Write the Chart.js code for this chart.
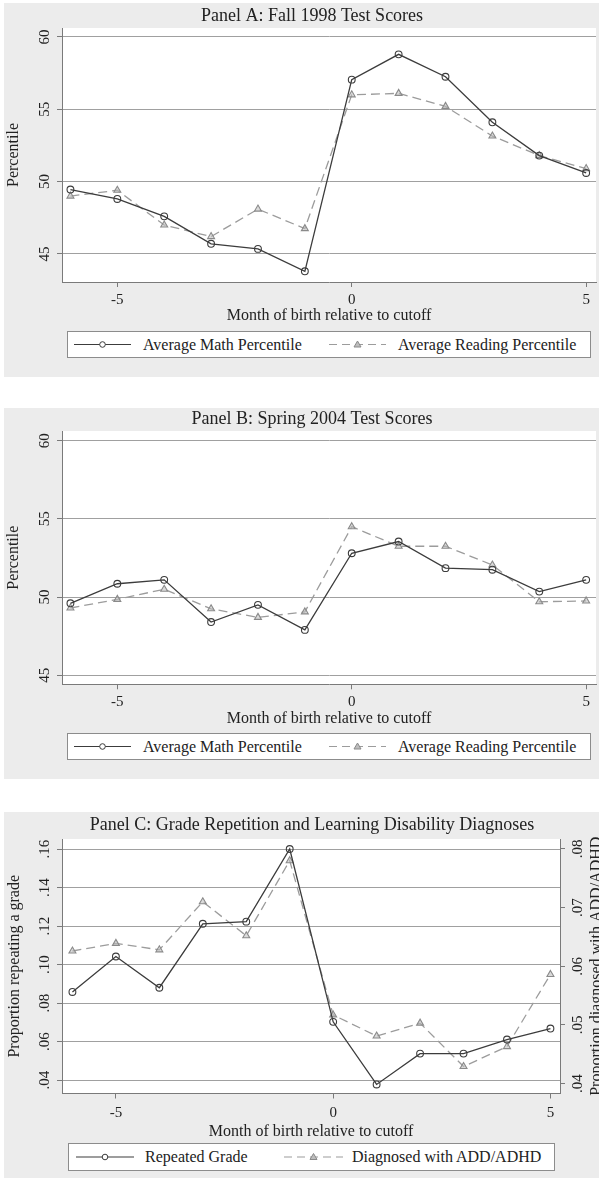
<!DOCTYPE html>
<html>
<head>
<meta charset="utf-8">
<script src="https://cdn.jsdelivr.net/npm/chart.js@4.4.1/dist/chart.umd.min.js"></script>
<style>
  html, body { margin: 0; padding: 0; background: #fff; }
  body { position: relative; width: 599px; height: 1178px; overflow: hidden;
         font-family: "Liberation Serif", "Times New Roman", serif; color: #222; }
  .panel { position: absolute; left: 4px; width: 595px; background: #ececec; }
  canvas { position: absolute; left: 0; }
  .legend { position: absolute; box-sizing: border-box; border: 1px solid #8c8c8c; background: #fff; }
  .legend svg { position: absolute; top: 0; }
  .legend span { position: absolute; top: 0; height: 100%; display: flex; align-items: center;
                 font-size: 16px; white-space: nowrap; color: #222; }
</style>
</head>
<body>
<div class="panel" style="top:3px;height:374px"></div>
<div class="panel" style="top:408px;height:371px"></div>
<div class="panel" style="top:812px;height:366px"></div>

<canvas id="panelA" width="599" height="330" style="top:0px"></canvas>
<canvas id="panelB" width="599" height="330" style="top:400px"></canvas>
<canvas id="panelC" width="599" height="345" style="top:800px"></canvas>

<div id="legendA" class="legend" style="left:67px;top:331px;width:524px;height:27px"></div>
<div id="legendB" class="legend" style="left:67px;top:733px;width:524px;height:27px"></div>
<div id="legendC" class="legend" style="left:68px;top:1143px;width:487px;height:28px"></div>

<script>
// Month of birth relative to the school-entry cutoff
const months = [-6, -5, -4, -3, -2, -1, 0, 1, 2, 3, 4, 5];
const monthTicks = [-5, 0, 5];

// Panel A: Fall 1998 test scores (percentiles)
const mathFall1998    = [49.45, 48.8, 47.6, 45.7, 45.35, 43.8, 57.05, 58.8, 57.25, 54.1, 51.8, 50.6];
const readingFall1998 = [49.0, 49.4, 47.0, 46.2, 48.1, 46.75, 56.0, 56.1, 55.2, 53.15, 51.8, 50.9];
const percentileTicks = [45, 50, 55, 60];
const percentileTickLabels = ['45', '50', '55', '60'];

// Panel B: Spring 2004 test scores (percentiles)
const mathSpring2004    = [49.6, 50.85, 51.1, 48.4, 49.5, 47.9, 52.8, 53.55, 51.85, 51.75, 50.35, 51.1];
const readingSpring2004 = [49.3, 49.85, 50.5, 49.25, 48.7, 49.05, 54.5, 53.25, 53.25, 52.05, 49.7, 49.75];

// Panel C: grade repetition (left axis) and ADD/ADHD diagnoses (right axis)
const repeatedGrade = [0.0858, 0.1042, 0.088, 0.1212, 0.1223, 0.160, 0.0703, 0.0378, 0.0538, 0.0538, 0.0611, 0.0668];
const adhdDiagnosed = [0.0626, 0.0639, 0.0628, 0.0710, 0.0652, 0.0780, 0.0517, 0.0481, 0.0503, 0.0429, 0.0463, 0.0586];
const repeatTicks = [0.04, 0.06, 0.08, 0.10, 0.12, 0.14, 0.16];
const repeatTickLabels = ['.04', '.06', '.08', '.10', '.12', '.14', '.16'];
const adhdTicks = [0.04, 0.05, 0.06, 0.07, 0.08];
const adhdTickLabels = ['.04', '.05', '.06', '.07', '.08'];

const SERIF = '"Liberation Serif", "Times New Roman", serif';
const TEXT = '#222';
const AXIS = '#7a7a7a';
const GRID = '#a0a0a0';
const DARK = '#3c3c3c';
const LIGHT = '#9c9c9c';

function points(series) {
  return months.map((m, i) => ({ x: m, y: series[i] }));
}

function solidSeries(label, series, axis) {
  return {
    label, data: points(series), yAxisID: axis || 'y',
    borderColor: DARK, borderWidth: 1.3, tension: 0,
    pointStyle: 'circle', pointRadius: 3.4, pointBorderWidth: 1.1,
    pointBorderColor: DARK, pointBackgroundColor: 'rgba(255,255,255,0)'
  };
}

function dashedSeries(label, series, axis) {
  return {
    label, data: points(series), yAxisID: axis || 'y',
    borderColor: LIGHT, borderWidth: 1.3, borderDash: [9, 5], tension: 0,
    pointStyle: 'triangle', pointRadius: 4, pointBorderWidth: 1.1,
    pointBorderColor: '#8a8a8a', pointBackgroundColor: 'rgba(190,190,190,0.55)'
  };
}

function xScale(min, max, height, pad) {
  return {
    type: 'linear', position: 'bottom', min, max,
    afterBuildTicks: s => { s.ticks = monthTicks.map(v => ({ value: v })); },
    afterFit: s => { s.height = height; },
    grid: { drawOnChartArea: false, drawTicks: true, tickLength: 5, color: AXIS, tickColor: AXIS, lineWidth: 1 },
    border: { display: true, color: AXIS, width: 1 },
    ticks: { color: TEXT, font: { family: SERIF, size: 15, lineHeight: 1.2 }, padding: pad,
             maxRotation: 0, minRotation: 0, autoSkip: false }
  };
}

function yScale(min, max, ticks, width, position, gridOn) {
  return {
    type: 'linear', position, min, max,
    afterBuildTicks: s => { s.ticks = ticks.map(v => ({ value: v })); },
    afterFit: s => { s.width = width; },
    grid: { drawOnChartArea: gridOn, drawTicks: true, tickLength: 5, color: GRID, tickColor: AXIS, lineWidth: 1 },
    border: { display: true, color: AXIS, width: 1 },
    ticks: { display: false }
  };
}

function rotatedText(ctx, text, x, y) {
  ctx.save();
  ctx.translate(x, y);
  ctx.rotate(-Math.PI / 2);
  ctx.fillText(text, 0, 0);
  ctx.restore();
}

// White plot region, titles, axis titles and vertical tick labels
const panelText = {
  id: 'panelText',
  beforeDraw(chart) {
    const { ctx, chartArea: a } = chart;
    ctx.save();
    ctx.fillStyle = '#fff';
    ctx.fillRect(a.left, a.top, a.right - a.left, a.bottom - a.top);
    ctx.restore();
  },
  afterDraw(chart, args, o) {
    const { ctx, chartArea: a } = chart;
    ctx.save();
    ctx.fillStyle = TEXT;
    ctx.textAlign = 'center';
    ctx.textBaseline = 'middle';
    ctx.font = '18px ' + SERIF;
    ctx.fillText(o.title, o.titleX, o.titleY);
    ctx.font = '16px ' + SERIF;
    ctx.fillText(o.xTitle, (a.left + a.right) / 2, a.bottom + o.xTitleGap);
    rotatedText(ctx, o.yTitle, o.yTitleX, (a.top + a.bottom) / 2);
    if (o.y2Title) rotatedText(ctx, o.y2Title, o.y2TitleX, (a.top + a.bottom) / 2);
    ctx.font = '15px ' + SERIF;
    const ys = chart.scales.y;
    o.yTicks.forEach((v, i) => rotatedText(ctx, o.yTickLabels[i], o.yTickX, ys.getPixelForValue(v)));
    if (o.y2Ticks) {
      const y2 = chart.scales.y2;
      o.y2Ticks.forEach((v, i) => rotatedText(ctx, o.y2TickLabels[i], o.y2TickX, y2.getPixelForValue(v)));
    }
    ctx.restore();
  }
};

function baseOptions(padTop, padRight, scales, text) {
  return {
    responsive: false, animation: false, devicePixelRatio: 1,
    layout: { padding: { top: padTop, right: padRight, left: 0, bottom: 0 }, autoPadding: false },
    scales,
    plugins: { legend: { display: false }, tooltip: { enabled: false }, panelText: text }
  };
}

new Chart(document.getElementById('panelA'), {
  type: 'line',
  data: { datasets: [
    solidSeries('Average Math Percentile', mathFall1998),
    dashedSeries('Average Reading Percentile', readingFall1998)
  ] },
  options: baseOptions(28, 3, {
    x: xScale(-6.18, 5.21, 48, 4),
    y: yScale(43.06, 60.62, percentileTicks, 62, 'left', true)
  }, {
    title: 'Panel A: Fall 1998 Test Scores', titleX: 312, titleY: 16,
    xTitle: 'Month of birth relative to cutoff', xTitleGap: 34,
    yTitle: 'Percentile', yTitleX: 14,
    yTicks: percentileTicks, yTickLabels: percentileTickLabels, yTickX: 45
  }),
  plugins: [panelText]
});

new Chart(document.getElementById('panelB'), {
  type: 'line',
  data: { datasets: [
    solidSeries('Average Math Percentile', mathSpring2004),
    dashedSeries('Average Reading Percentile', readingSpring2004)
  ] },
  options: baseOptions(31, 3, {
    x: xScale(-6.18, 5.21, 45.7, 4),
    y: yScale(44.42, 60.62, percentileTicks, 62, 'left', true)
  }, {
    title: 'Panel B: Spring 2004 Test Scores', titleX: 312, titleY: 19.5,
    xTitle: 'Month of birth relative to cutoff', xTitleGap: 34,
    yTitle: 'Percentile', yTitleX: 14,
    yTicks: percentileTicks, yTickLabels: percentileTickLabels, yTickX: 45
  }),
  plugins: [panelText]
});

new Chart(document.getElementById('panelC'), {
  type: 'line',
  data: { datasets: [
    solidSeries('Repeated Grade', repeatedGrade, 'y'),
    dashedSeries('Diagnosed with ADD/ADHD', adhdDiagnosed, 'y2')
  ] },
  options: baseOptions(39, 0, {
    x: xScale(-6.24, 5.22, 51.5, 5.5),
    y: yScale(0.0331, 0.1652, repeatTicks, 62, 'left', true),
    y2: yScale(0.0383, 0.0817, adhdTicks, 39, 'right', false)
  }, {
    title: 'Panel C: Grade Repetition and Learning Disability Diagnoses', titleX: 312, titleY: 25,
    xTitle: 'Month of birth relative to cutoff', xTitleGap: 38,
    yTitle: 'Proportion repeating a grade', yTitleX: 15,
    yTicks: repeatTicks, yTickLabels: repeatTickLabels, yTickX: 45,
    y2Title: 'Proportion diagnosed with ADD/ADHD', y2TitleX: 597,
    y2Ticks: adhdTicks, y2TickLabels: adhdTickLabels, y2TickX: 578
  }),
  plugins: [panelText]
});

// Legend rows: a line sample with its marker, then the series name
function addLegend(id, h, items) {
  const box = document.getElementById(id);
  const ns = 'http://www.w3.org/2000/svg';
  items.forEach(it => {
    const svg = document.createElementNS(ns, 'svg');
    svg.setAttribute('width', it.w);
    svg.setAttribute('height', h);
    svg.style.left = it.x + 'px';
    const cy = (h - 2) / 2;
    const line = document.createElementNS(ns, 'line');
    line.setAttribute('x1', 0); line.setAttribute('x2', it.w);
    line.setAttribute('y1', cy); line.setAttribute('y2', cy);
    line.setAttribute('stroke', it.dashed ? LIGHT : DARK);
    line.setAttribute('stroke-width', 1.2);
    if (it.dashed) line.setAttribute('stroke-dasharray', '8 5');
    svg.appendChild(line);
    const mx = it.w / 2;
    let mark;
    if (it.dashed) {
      mark = document.createElementNS(ns, 'polygon');
      mark.setAttribute('points', `${mx},${cy - 3.5} ${mx - 3.5},${cy + 2.5} ${mx + 3.5},${cy + 2.5}`);
      mark.setAttribute('fill', '#bdbdbd');
      mark.setAttribute('stroke', '#8a8a8a');
    } else {
      mark = document.createElementNS(ns, 'circle');
      mark.setAttribute('cx', mx); mark.setAttribute('cy', cy); mark.setAttribute('r', 2.8);
      mark.setAttribute('fill', '#fff');
      mark.setAttribute('stroke', DARK);
    }
    mark.setAttribute('stroke-width', 1);
    svg.appendChild(mark);
    box.appendChild(svg);
    const span = document.createElement('span');
    span.textContent = it.label;
    span.style.left = it.tx + 'px';
    box.appendChild(span);
  });
}

const testLegend = [
  { label: 'Average Math Percentile', x: 6, w: 57, tx: 75, dashed: false },
  { label: 'Average Reading Percentile', x: 261, w: 57, tx: 330, dashed: true }
];
addLegend('legendA', 27, testLegend);
addLegend('legendB', 27, testLegend);
addLegend('legendC', 28, [
  { label: 'Repeated Grade', x: 7, w: 58, tx: 76, dashed: false },
  { label: 'Diagnosed with ADD/ADHD', x: 215, w: 59, tx: 283, dashed: true }
]);
</script>
</body>
</html>
